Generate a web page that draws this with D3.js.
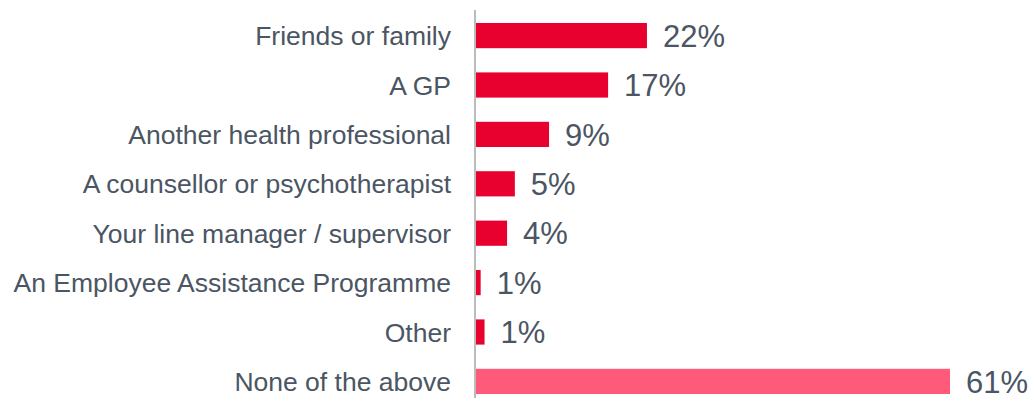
<!DOCTYPE html>
<html>
<head>
<meta charset="utf-8">
<script src="https://cdn.jsdelivr.net/npm/d3@7"></script>
<style>
  html, body { margin: 0; padding: 0; background: #ffffff; }
  svg { display: block; }
</style>
</head>
<body>
<div id="chart"></div>
<script>
// Sources of support, share of respondents
const categories = [
  "Friends or family",
  "A GP",
  "Another health professional",
  "A counsellor or psychotherapist",
  "Your line manager / supervisor",
  "An Employee Assistance Programme",
  "Other",
  "None of the above"
];
const values = [22, 17, 9.4, 5, 4, 0.6, 1.1, 61];
const barColors = ["#e8002f", "#e8002f", "#e8002f", "#e8002f", "#e8002f", "#e8002f", "#e8002f", "#ff5a7a"];

const width = 1033, height = 398;
const axisX = 475;
const textColor = "#4b5563";

const svg = d3.select("#chart").append("svg")
  .attr("width", width)
  .attr("height", height);

const x = d3.scaleLinear().domain([0, 61]).range([axisX + 1, 950]);
const y = d3.scaleBand().domain(categories)
  .range([10.9, 406.1])
  .paddingInner(0.49)
  .paddingOuter(0.245);

const rows = categories.map((c, i) => ({ c, v: values[i], color: barColors[i] }));

// bars
svg.append("g").selectAll("rect").data(rows).join("rect")
  .attr("x", x(0))
  .attr("y", d => y(d.c))
  .attr("width", d => x(d.v) - x(0))
  .attr("height", y.bandwidth())
  .attr("fill", d => d.color);

// category axis (line only, labels drawn separately)
svg.append("line")
  .attr("x1", axisX).attr("x2", axisX)
  .attr("y1", 10).attr("y2", height)
  .attr("stroke", "#a6a6a6")
  .attr("stroke-width", 1.5);

// category labels
svg.append("g").selectAll("text").data(rows).join("text")
  .attr("x", 451)
  .attr("y", d => y(d.c) + y.bandwidth() / 2)
  .attr("dy", "0.36em")
  .attr("text-anchor", "end")
  .attr("font-family", "'Liberation Sans', Arial, sans-serif")
  .attr("font-size", 26.5)
  .attr("fill", textColor)
  .text(d => d.c);

// value labels
svg.append("g").selectAll("text").data(rows).join("text")
  .attr("x", d => x(d.v) + 16)
  .attr("y", d => y(d.c) + y.bandwidth() / 2)
  .attr("dy", "0.36em")
  .attr("font-family", "'Liberation Sans', Arial, sans-serif")
  .attr("font-size", 31)
  .attr("fill", textColor)
  .text(d => Math.round(d.v) + "%");
</script>
</body>
</html>
